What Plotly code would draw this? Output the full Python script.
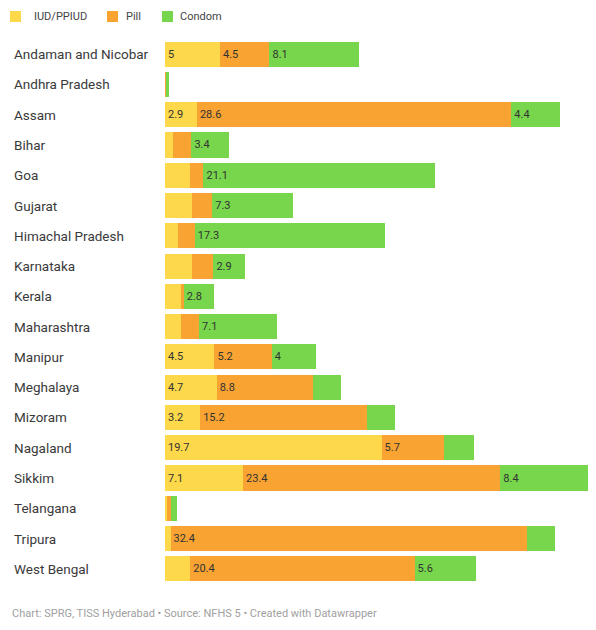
import plotly.graph_objects as go

states = ["Andaman and Nicobar", "Andhra Pradesh", "Assam", "Bihar", "Goa", "Gujarat",
          "Himachal Pradesh", "Karnataka", "Kerala", "Maharashtra", "Manipur", "Meghalaya",
          "Mizoram", "Nagaland", "Sikkim", "Telangana", "Tripura", "West Bengal"]
iud = [5, 0.05, 2.9, 0.7, 2.3, 2.5, 1.2, 2.5, 1.5, 1.5, 4.5, 4.7, 3.2, 19.7, 7.1, 0.2, 0.5, 2.3]
pill = [4.5, 0.05, 28.6, 1.7, 1.2, 1.8, 1.5, 1.9, 0.2, 1.6, 5.2, 8.8, 15.2, 5.7, 23.4, 0.3, 32.4, 20.4]
condom = [8.1, 0.25, 4.4, 3.4, 21.1, 7.3, 17.3, 2.9, 2.8, 7.1, 4, 2.5, 2.5, 2.7, 8.4, 0.6, 2.6, 5.6]

series_names = ["IUD/PPIUD", "Pill", "Condom"]
colors = ["#fcd84a", "#f8a332", "#77d64b"]
footer = "Chart: SPRG, TISS Hyderabad • Source: NFHS 5 • Created with Datawrapper"

def lab(v):
    return (("%g" % v) if v >= 2.8 else "")

fig = go.Figure()
for name, vals, col in zip(series_names, [iud, pill, condom], colors):
    fig.add_trace(go.Bar(
        y=states, x=vals, name=name, orientation="h",
        marker=dict(color=col, line=dict(width=0)),
        text=[lab(v) for v in vals], textposition="inside", insidetextanchor="start",
        textfont=dict(family="Roboto", size=11, color="#333333"),
        cliponaxis=False, showlegend=False,
    ))

# row labels (left-aligned)
for s in states:
    fig.add_annotation(x=0, xref="paper", xshift=-153, y=s, yref="y", text=s,
                       showarrow=False, xanchor="left",
                       font=dict(family="Roboto", size=13.5, color="#3a3a3a"))

# custom legend
sq_offsets = [(-155, -144), (-58, -47), (-3, 8)]
txt_offsets = [-133, -41, 13]
for name, col, (a, b), t in zip(series_names, colors, sq_offsets, txt_offsets):
    fig.add_shape(type="rect", xref="paper", yref="paper", xsizemode="pixel", ysizemode="pixel",
                  xanchor=0, yanchor=1, x0=a, x1=b, y0=17, y1=28,
                  fillcolor=col, line=dict(width=0))
    fig.add_annotation(x=0, xref="paper", xshift=t, y=1, yref="paper", yshift=23, text=name,
                       showarrow=False, xanchor="left", yanchor="middle",
                       font=dict(family="Roboto", size=11, color="#444444"))

fig.add_annotation(x=0, xref="paper", xshift=-155, y=0, yref="paper", yshift=-29, text=footer,
                   showarrow=False, xanchor="left", yanchor="middle",
                   font=dict(family="Roboto", size=11, color="#a0a0a0"))

fig.update_layout(
    width=588, height=622, barmode="stack", bargap=0.17,
    margin=dict(l=157, r=0, t=31, b=46),
    plot_bgcolor="white", paper_bgcolor="white",
    showlegend=False,
    uniformtext=dict(minsize=11, mode="show"),
    xaxis=dict(range=[0, 39.2], visible=False, fixedrange=True),
    yaxis=dict(autorange="reversed", showticklabels=False, showgrid=False, zeroline=False,
               categoryorder="array", categoryarray=states),
)

fig.write_html("out.html")
